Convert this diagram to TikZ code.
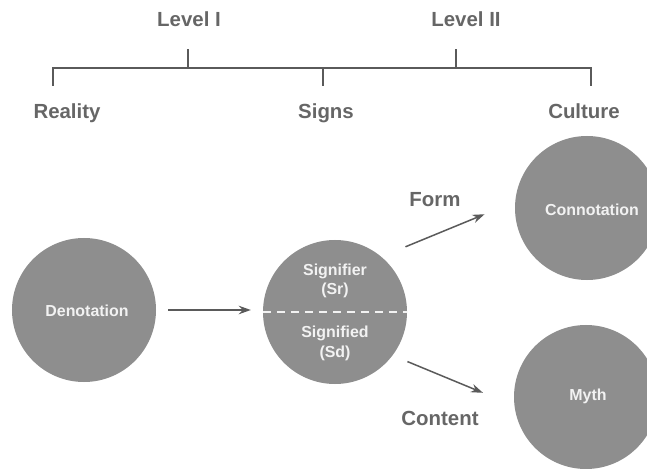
\documentclass[tikz,border=0pt]{standalone}
\usepackage{fontspec}
\setmainfont{Liberation Sans}
\usetikzlibrary{arrows.meta}
\definecolor{circfill}{HTML}{8E8E8E}
\definecolor{labtext}{HTML}{666666}
\definecolor{linecol}{HTML}{5A5A5A}
\definecolor{intext}{HTML}{F2F2F2}
\tikzset{
  bubble/.style={circle, fill=circfill, minimum size=144bp, inner sep=0pt},
  intxt/.style={text=intext, font=\bfseries\fontsize{16}{19}\selectfont, inner sep=0pt},
  toplab/.style={text=labtext, font=\bfseries\fontsize{20.5}{24}\selectfont, inner sep=0pt, anchor=base},
  bracket/.style={draw=linecol, line width=1.4bp},
  conn/.style={draw=linecol, line width=1.5bp, -{Stealth[length=12bp,width=8.5bp]}}
}
\begin{document}
\begin{tikzpicture}[x=1bp,y=-1bp]
\useasboundingbox (0,0) rectangle (647,469);
% top labels
\node[toplab] (lvl1) at (189,27) {Level I};
\node[toplab] (lvl2) at (466,27) {Level II};
\node[toplab] (real) at (67,118.5) {Reality};
\node[toplab] (signs) at (326,118.5) {Signs};
\node[toplab] (cult) at (584,118.5) {Culture};
% bracket
\coordinate (bl) at (53,68);
\coordinate (br) at (591,68);
\draw[bracket] (53,86) -- (bl) -- (br) -- (591,86);
\draw[bracket] (323,68) -- (323,86);
\draw[bracket] (188,68) -- (188,49);
\draw[bracket] (456,68) -- (456,49);
% circles
\node[bubble] (den) at (84,310) {};
\node[bubble] (sig) at (335,312) {};
\node[bubble] (con) at (587,208) {};
\node[bubble] (myth) at (586,397) {};
\node[intxt] (dentxt) at (87,311) {Denotation};
\node[intxt] (contxt) at (592,210) {Connotation};
\node[intxt] (mythtxt) at (588,396) {Myth};
\node[intxt, anchor=base] (sr1) at (335,276) {Signifier};
\node[intxt, anchor=base] (sr2) at (335,295) {(Sr)};
\node[intxt, anchor=base] (sd1) at (335,337) {Signified};
\node[intxt, anchor=base] (sd2) at (335,357) {(Sd)};
\draw[draw=intext, line width=1.6bp, dash pattern=on 8bp off 6bp] (sig.west) -- (sig.east);
% arrows
\draw[conn, shorten <=12bp, shorten >=12bp] (den.east) -- (den.east -| sig.west);
\draw[conn, shorten <=26bp, shorten >=33bp] (sig.50) -- (con.175);
\draw[conn, shorten <=16bp, shorten >=34bp] (sig.-37) -- (myth.187.5);
% arrow labels
\node[toplab] (form) at (435,207) {Form};
\node[toplab] (content) at (440,425) {Content};
\end{tikzpicture}
\end{document}
